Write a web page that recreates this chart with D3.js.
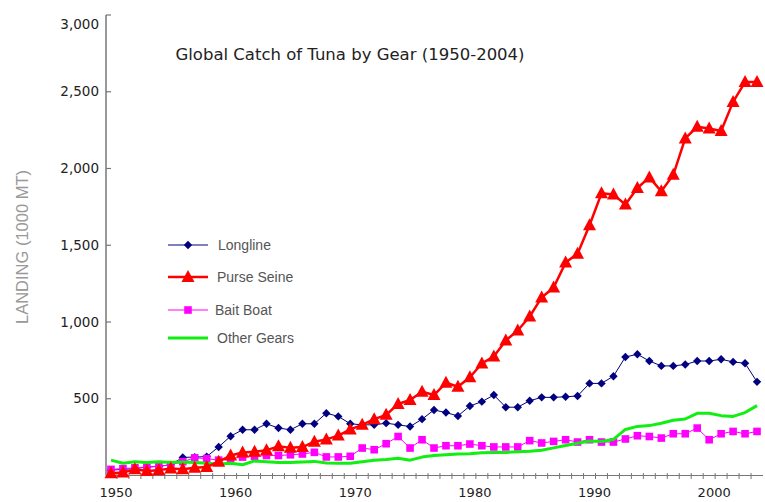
<!DOCTYPE html>
<html>
<head>
<meta charset="utf-8">
<script src="https://cdn.jsdelivr.net/npm/d3@7"></script>
<style>
  html, body { margin: 0; padding: 0; background: #fff; }
  svg { display: block; }
</style>
</head>
<body>
<svg id="chart" width="765" height="502"></svg>
<script>
// ---- data ----
const years = d3.range(1950, 2005);
const longline = [35,40,45,55,60,70,118,120,123,186,
  256,298,298,337,309,298,337,337,406,385,
  337,330,330,341,330,319,367,427,410,388,
  453,481,524,445,445,487,509,509,513,518,
  600,600,647,772,790,746,714,714,723,746,
  746,757,740,731,610];
const purseSeine = [15,20,40,30,35,45,40,50,55,90,
  130,150,155,165,190,180,185,220,235,260,
  300,330,367,395,466,492,546,524,604,578,
  640,730,775,880,945,1036,1160,1225,1387,1445,
  1630,1838,1830,1765,1873,1942,1851,1959,2196,2272,
  2261,2244,2434,2563,2563];
const baitBoat = [40,45,50,55,60,70,90,115,110,100,
  110,120,125,130,130,135,140,151,121,121,
  125,179,168,207,254,179,233,179,194,194,
  205,194,186,186,186,227,212,222,233,218,
  233,218,218,238,259,254,244,272,272,309,
  233,272,287,272,287];
const otherGears = [100,80,90,85,90,85,88,85,80,75,
  80,70,95,90,85,85,88,92,82,80,
  80,90,100,105,112,100,120,130,135,140,
  142,148,150,150,155,158,165,180,195,210,
  225,222,235,300,320,325,340,360,368,405,
  405,390,385,410,455];
const yTicks = [500, 1000, 1500, 2000, 2500, 3000];
const xLabelYears = [1950, 1960, 1970, 1980, 1990, 2000];
const seriesNames = ["Longline", "Purse Seine", "Bait Boat", "Other Gears"];
const titleText = "Global Catch of Tuna by Gear (1950-2004)";
const yTitle = "LANDING (1000 MT)";

// ---- layout ----
const svg = d3.select("#chart");
const axisX = 106, axisY = 475.5, rightX = 763;

const x = d3.scaleBand().domain(years).range([105, rightX]);
const xc = yr => x(yr) + x.bandwidth() / 2;
const y = d3.scaleLinear().domain([0, 3000]).range([axisY, 15]);

const series = [
  { name: seriesNames[0], values: longline,   color: "#000080", width: 1,   marker: "diamond" },
  { name: seriesNames[2], values: baitBoat,   color: "#ff00ff", width: 1,   marker: "square" },
  { name: seriesNames[3], values: otherGears, color: "#11ee11", width: 3,   marker: null },
  { name: seriesNames[1], values: purseSeine, color: "#ff0000", width: 2.5, marker: "triangle" }
];

const markerPath = {
  diamond: "M0,-4.2L4.2,0L0,4.2L-4.2,0Z",
  square: "M-3.8,-3.8H3.8V3.8H-3.8Z",
  triangle: "M0,-7L6.5,5L-6.5,5Z"
};

// ---- axes ----
const g = svg.append("g");
g.append("line").attr("x1", axisX).attr("x2", axisX)
  .attr("y1", y(3000)).attr("y2", axisY)
  .attr("stroke", "#777").attr("stroke-width", 1.5);
g.selectAll(".ytick").data(yTicks).join("line")
  .attr("x1", axisX).attr("x2", axisX + 5)
  .attr("y1", d => y(d)).attr("y2", d => y(d))
  .attr("stroke", "#777").attr("stroke-width", 1.2);
g.selectAll(".ylab").data(yTicks).join("text")
  .attr("x", 99)
  .attr("y", d => y(d) + (d === 3000 ? 9 : 0))
  .attr("dy", "0.35em")
  .attr("text-anchor", "end")
  .attr("font-family", "DejaVu Sans, sans-serif")
  .attr("font-size", 13.5)
  .attr("fill", "#222")
  .text(d => d3.format(",")(d));

g.append("line").attr("x1", axisX).attr("x2", rightX)
  .attr("y1", axisY).attr("y2", axisY)
  .attr("stroke", "#777").attr("stroke-width", 1.2);
g.selectAll(".xtick").data(years.slice(1)).join("line")
  .attr("x1", d => x(d)).attr("x2", d => x(d))
  .attr("y1", axisY - 2.5).attr("y2", axisY + 3.5)
  .attr("stroke", "#777").attr("stroke-width", 1);
g.selectAll(".xlab").data(xLabelYears).join("text")
  .attr("x", d => xc(d) + 5)
  .attr("y", 497)
  .attr("text-anchor", "middle")
  .attr("font-family", "DejaVu Sans, sans-serif")
  .attr("font-size", 13)
  .attr("fill", "#222")
  .text(d => d);

svg.append("text")
  .attr("transform", "translate(28,247) rotate(-90)")
  .attr("text-anchor", "middle")
  .attr("font-family", "Liberation Sans, Arial, sans-serif")
  .attr("font-size", 16.5)
  .attr("fill", "#999")
  .text(yTitle);

svg.append("text")
  .attr("x", 350).attr("y", 60)
  .attr("text-anchor", "middle")
  .attr("font-family", "DejaVu Sans, sans-serif")
  .attr("font-size", 16.5)
  .attr("fill", "#222")
  .text(titleText);

// ---- series ----
const line = d3.line().x((d, i) => xc(years[i])).y(d => y(d));
series.forEach(s => {
  const sg = svg.append("g");
  sg.append("path").datum(s.values)
    .attr("d", line)
    .attr("fill", "none")
    .attr("stroke", s.color)
    .attr("stroke-width", s.width)
    .attr("stroke-linejoin", "round");
  if (s.marker) {
    sg.selectAll("path.m").data(s.values).join("path")
      .attr("class", "m")
      .attr("d", markerPath[s.marker])
      .attr("transform", (d, i) => `translate(${xc(years[i])},${y(d)})`)
      .attr("fill", s.color);
  }
});

// ---- legend ----
const legendItems = [
  { s: series[0], ly: 245, tx: 218 },
  { s: series[3], ly: 277, tx: 217 },
  { s: series[1], ly: 310, tx: 215 },
  { s: series[2], ly: 338, tx: 217 }
];
const lg = svg.append("g");
legendItems.forEach(it => {
  lg.append("line").attr("x1", 168).attr("x2", 208)
    .attr("y1", it.ly).attr("y2", it.ly)
    .attr("stroke", it.s.color).attr("stroke-width", it.s.width);
  if (it.s.marker) {
    lg.append("path").attr("d", markerPath[it.s.marker])
      .attr("transform", `translate(188,${it.ly})`)
      .attr("fill", it.s.color);
  }
  lg.append("text").attr("x", it.tx).attr("y", it.ly)
    .attr("dy", "0.35em")
    .attr("font-family", "Liberation Sans, Arial, sans-serif")
    .attr("font-size", 14)
    .attr("fill", "#555")
    .text(it.s.name);
});
</script>
</body>
</html>
